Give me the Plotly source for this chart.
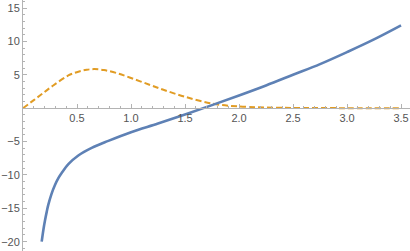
import plotly.graph_objects as go

# Data
x_blue = [0.173, 0.19, 0.204, 0.22, 0.234, 0.265, 0.296, 0.33, 0.358, 0.42, 0.512,
          0.636, 0.79, 1.0, 1.25, 1.5, 1.75, 2.0, 2.25, 2.5, 2.75, 3.0, 3.25, 3.5]
y_blue = [-20.0, -18.1, -16.8, -15.5, -14.5, -12.8, -11.5, -10.4, -9.7, -8.4, -7.1,
          -5.95, -4.9, -3.6, -2.3, -0.95, 0.45, 1.9, 3.4, 5.0, 6.6, 8.4, 10.3, 12.4]

x_orange = [0.0, 0.1, 0.19, 0.28, 0.42, 0.52, 0.59, 0.66, 0.75, 0.87, 1.02, 1.18,
            1.3, 1.5, 1.76, 2.0, 2.25, 2.5, 2.75, 3.0, 3.5]
y_orange = [0.0, 1.2, 2.3, 3.4, 4.9, 5.5, 5.75, 5.85, 5.7, 5.25, 4.4, 3.45,
            2.75, 1.7, 0.65, 0.25, 0.1, 0.03, 0.01, 0.0, 0.0]

x_ticks = [0.5, 1.0, 1.5, 2.0, 2.5, 3.0, 3.5]
x_tick_labels = ["0.5", "1.0", "1.5", "2.0", "2.5", "3.0", "3.5"]
y_ticks = [-20, -15, -10, -5, 5, 10, 15]
y_tick_labels = ["\u221220", "\u221215", "\u221210", "\u22125", "5", "10", "15"]

x_range = [0.0, 3.583]
y_range = [-21.4, 16.2]

axis_col = "#b3b3b3"
font = dict(family="Liberation Sans, Arial, sans-serif", size=11, color="#555555")

fig = go.Figure()
fig.add_trace(go.Scatter(x=x_orange, y=y_orange, mode="lines",
                         line=dict(color="#E19C24", width=2, dash="6px,3px",
                                   shape="spline", smoothing=1)))
fig.add_trace(go.Scatter(x=x_blue, y=y_blue, mode="lines",
                         line=dict(color="#5E81B5", width=2.6,
                                   shape="spline", smoothing=1)))

zero_pos = (0 - y_range[0]) / (y_range[1] - y_range[0])

fig.update_layout(
    width=410, height=251,
    margin=dict(l=23, r=0, t=0, b=0, autoexpand=False),
    paper_bgcolor="white", plot_bgcolor="white",
    showlegend=False,
    font=font,
    xaxis=dict(range=x_range, anchor="free", position=zero_pos, automargin=False,
               showgrid=False, zeroline=False, showline=True,
               linecolor=axis_col, linewidth=1,
               tickvals=x_ticks, ticktext=x_tick_labels,
               ticks="inside", ticklen=4, tickcolor=axis_col, tickwidth=1,
               minor=dict(dtick=0.1, tick0=0, ticks="inside", ticklen=2,
                          tickcolor=axis_col, tickwidth=1),
               tickfont=font, fixedrange=True),
    yaxis=dict(range=y_range, domain=[0, 1], automargin=False,
               showgrid=False, zeroline=False, showline=True,
               linecolor=axis_col, linewidth=1,
               tickvals=y_ticks, ticktext=y_tick_labels,
               ticks="inside", ticklen=4, tickcolor=axis_col, tickwidth=1,
               minor=dict(dtick=1, tick0=0, ticks="inside", ticklen=2,
                          tickcolor=axis_col, tickwidth=1),
               tickfont=font, fixedrange=True),
)

fig.write_html(
    "out.html",
    config={"displayModeBar": False},
    post_script="document.body.style.margin='0';document.body.style.padding='0';"
                "document.body.style.overflow='hidden';",
)
